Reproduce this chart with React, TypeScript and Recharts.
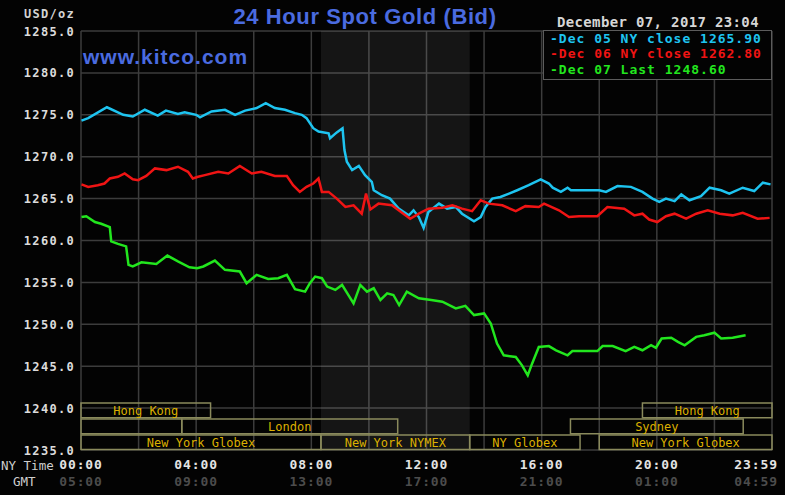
import React from "react";
import {
  CartesianGrid,
  Line,
  LineChart,
  ReferenceArea,
  XAxis,
  YAxis,
} from "recharts";

// minutes after 00:00 NY time
const dec05Times = [
  1, 15, 54, 88, 108, 133, 160, 177, 202, 216, 240, 248, 272, 300, 321, 342, 366, 385, 404, 425,
  446, 460, 470, 484, 495, 516, 519, 533, 545, 549, 554, 565, 579, 592, 606, 610, 627, 644, 662,
  683, 693, 704, 714, 724, 746, 763, 781, 794, 819, 833, 843, 857, 874, 892, 909, 933, 958, 975,
  983, 1000, 1014, 1021, 1080, 1094, 1118, 1146, 1170, 1191, 1205, 1219, 1237, 1251, 1268, 1292,
  1310, 1334, 1351, 1379, 1403, 1421, 1437,
];
const dec05Values = [
  1274.3, 1274.6, 1275.9, 1275.0, 1274.8, 1275.6, 1274.9, 1275.5, 1275.1, 1275.3, 1275.0, 1274.7,
  1275.4, 1275.6, 1275.0, 1275.5, 1275.8, 1276.4, 1275.8, 1275.6, 1275.2, 1275.0, 1274.6, 1273.4,
  1273.0, 1272.8, 1272.2, 1272.9, 1273.4, 1270.8, 1269.4, 1268.4, 1268.9, 1267.8, 1267.0, 1266.0,
  1265.4, 1265.0, 1263.8, 1263.0, 1263.6, 1262.8, 1261.5, 1263.4, 1264.4, 1263.8, 1264.0, 1263.2,
  1262.3, 1262.8, 1264.0, 1265.0, 1265.2, 1265.6, 1266.0, 1266.6, 1267.3, 1266.8, 1266.3, 1265.8,
  1266.3, 1266.0, 1266.0, 1265.8, 1266.5, 1266.4, 1265.8, 1265.0, 1264.6, 1265.0, 1264.7, 1265.5,
  1264.8, 1265.3, 1266.3, 1266.0, 1265.6, 1266.3, 1265.9, 1266.9, 1266.7,
];

const dec06Times = [
  1, 15, 35, 49, 60, 77, 91, 108, 119, 136, 154, 178, 202, 223, 233, 244, 258, 286, 307, 331, 356,
  376, 404, 429, 442, 456, 470, 484, 495, 502, 516, 533, 551, 568, 585, 594, 603, 620, 648, 662,
  686, 704, 724, 753, 774, 794, 815, 833, 850, 878, 906, 926, 954, 965, 996, 1017, 1038, 1076,
  1097, 1132, 1153, 1170, 1184, 1201, 1219, 1237, 1261, 1282, 1306, 1331, 1358, 1379, 1410, 1435,
];
const dec06Values = [
  1266.7, 1266.4, 1266.6, 1266.8, 1267.4, 1267.6, 1268.0, 1267.3, 1267.2, 1267.7, 1268.6, 1268.4,
  1268.8, 1268.2, 1267.4, 1267.6, 1267.8, 1268.2, 1268.0, 1268.9, 1268.0, 1268.2, 1267.7, 1267.7,
  1266.6, 1265.8, 1266.4, 1266.8, 1267.4, 1265.8, 1265.8, 1265.0, 1264.0, 1264.2, 1263.2, 1265.6,
  1263.7, 1264.4, 1264.2, 1263.6, 1262.6, 1263.2, 1263.8, 1263.9, 1264.2, 1263.8, 1263.5, 1264.8,
  1264.4, 1264.2, 1263.5, 1264.1, 1264.0, 1264.4, 1263.6, 1262.8, 1262.9, 1262.9, 1264.0, 1263.8,
  1263.0, 1263.2, 1262.5, 1262.2, 1262.9, 1263.2, 1262.6, 1263.2, 1263.6, 1263.2, 1263.0, 1263.3,
  1262.6, 1262.7,
];

const dec07Times = [
  1, 11, 29, 42, 60, 63, 77, 94, 99, 108, 126, 157, 180, 202, 226, 242, 255, 279, 300, 331, 345,
  366, 390, 411, 429, 446, 467, 477, 488, 502, 513, 530, 544, 568, 582, 596, 610, 624, 638, 651,
  663, 679, 704, 730, 753, 781, 801, 819, 840, 854, 867, 881, 906, 919, 931, 940, 954, 975, 990,
  1014, 1024, 1076, 1087, 1108, 1135, 1153, 1170, 1188, 1198, 1210, 1230, 1244, 1258, 1282, 1299,
  1320, 1334, 1358, 1385,
];
const dec07Values = [
  1262.8, 1262.9, 1262.2, 1262.0, 1261.6, 1259.9, 1259.6, 1259.3, 1257.1, 1256.9, 1257.4, 1257.2,
  1258.2, 1257.5, 1256.8, 1256.7, 1256.9, 1257.6, 1256.5, 1256.3, 1254.9, 1255.9, 1255.4, 1255.5,
  1255.9, 1254.2, 1253.9, 1254.9, 1255.7, 1255.5, 1254.5, 1254.1, 1254.7, 1252.5, 1254.7, 1253.9,
  1254.3, 1252.9, 1253.7, 1253.5, 1252.3, 1253.9, 1253.1, 1252.9, 1252.7, 1251.9, 1252.2, 1251.1,
  1251.3, 1250.1, 1247.7, 1246.3, 1246.1, 1245.1, 1243.9, 1245.3, 1247.3, 1247.4, 1246.9, 1246.3,
  1246.8, 1246.8, 1247.4, 1247.4, 1246.8, 1247.3, 1246.9, 1247.5, 1247.2, 1248.3, 1248.4, 1247.9,
  1247.5, 1248.5, 1248.7, 1249.0, 1248.3, 1248.4, 1248.7,
];

const priceTicks = [1235, 1240, 1245, 1250, 1255, 1260, 1265, 1270, 1275, 1280, 1285];
const gridTimes = [0, 120, 240, 360, 480, 600, 720, 840, 960, 1080, 1200, 1320, 1440];
const nyLabels = ["00:00", "04:00", "08:00", "12:00", "16:00", "20:00", "23:59"];
const gmtLabels = ["05:00", "09:00", "13:00", "17:00", "21:00", "01:00", "04:59"];

const legendLabels = [
  "-Dec 05 NY close 1265.90",
  "-Dec 06 NY close 1262.80",
  "-Dec 07 Last 1248.60",
];

// NYMEX pit session (shaded)
const pitStart = 500;
const pitEnd = 810;

const sessionNames = [
  "Hong Kong", "", "London", "New York Globex", "New York NYMEX", "NY Globex",
  "Sydney", "Hong Kong", "New York Globex",
];
const sessionStarts = [0, 0, 210, 0, 500, 810, 1020, 1170, 1080];
const sessionEnds = [270, 210, 660, 500, 810, 1040, 1380, 1440, 1440];
const sessionRows = [0, 1, 1, 2, 2, 2, 1, 0, 2];

const MONO = '"DejaVu Sans Mono", monospace';
const CYAN = "#1ec4f0";
const RED = "#f01414";
const GREEN = "#22e61e";

const toPoints = (times: number[], values: number[]) =>
  times.map((t, i) => ({ t, v: values[i] }));

const dec05 = toPoints(dec05Times, dec05Values);
const dec06 = toPoints(dec06Times, dec06Values);
const dec07 = toPoints(dec07Times, dec07Values);

// y bands of the three session rows, in price units
const rowBands = [
  [1238.85, 1240.6],
  [1236.95, 1238.7],
  [1235.05, 1236.8],
];

function PriceTick({ x, y, payload }: any) {
  return (
    <text
      x={x + 2}
      y={y + 4.5}
      textAnchor="end"
      fill="#dcdcdc"
      fontFamily={MONO}
      fontWeight="bold"
      fontSize={12}
      letterSpacing={1.3}
    >
      {Number(payload.value).toFixed(1)}
    </text>
  );
}

function TimeTick({ x, y, payload }: any) {
  const t = payload.value;
  if (t % 240 !== 0) return <g />;
  const i = t / 240;
  const last = i === nyLabels.length - 1;
  const tx = last ? x + 6 : x;
  const anchor = last ? "end" : "middle";
  return (
    <g>
      <text
        x={tx}
        y={y + 11}
        textAnchor={anchor}
        fill="#e4e4e4"
        fontFamily={MONO}
        fontWeight="bold"
        fontSize={13}
        letterSpacing={0.9}
      >
        {nyLabels[i]}
      </text>
      <text
        x={tx}
        y={y + 28}
        textAnchor={anchor}
        fill="#4c4c4c"
        fontFamily={MONO}
        fontWeight="bold"
        fontSize={13}
        letterSpacing={0.9}
      >
        {gmtLabels[i]}
      </text>
    </g>
  );
}

export default function App() {
  return (
    <div
      style={{
        position: "absolute",
        left: 0,
        top: 0,
        width: 785,
        height: 495,
        background: "#030303",
        overflow: "hidden",
      }}
    >
      <LineChart
        width={785}
        height={495}
        margin={{ top: 31, right: 13, left: 0, bottom: 0 }}
      >
        <CartesianGrid
          stroke="#3c3c3c"
          strokeWidth={1.5}
          horizontal
          vertical
        />
        <ReferenceArea
          x1={pitStart}
          x2={pitEnd}
          y1={1235}
          y2={1285}
          fill="#ffffff"
          fillOpacity={0.075}
          stroke="none"
        />
        <XAxis
          type="number"
          dataKey="t"
          domain={[0, 1440]}
          ticks={gridTimes}
          height={45}
          axisLine={false}
          tickLine={false}
          tick={<TimeTick />}
          interval={0}
          allowDataOverflow
        />
        <YAxis
          type="number"
          domain={[1235, 1285]}
          ticks={priceTicks}
          width={81}
          axisLine={false}
          tickLine={false}
          tick={<PriceTick />}
          interval={0}
          allowDataOverflow
        />
        {sessionNames.map((name, i) => (
          <ReferenceArea
            key={i}
            x1={sessionStarts[i]}
            x2={sessionEnds[i]}
            y1={rowBands[sessionRows[i]][0]}
            y2={rowBands[sessionRows[i]][1]}
            fill="none"
            fillOpacity={0}
            stroke="#8a8a5c"
            strokeWidth={1.5}
            label={{
              value: name,
              position: "center",
              fill: "#dcb000",
              fontSize: 12,
              fontFamily: MONO,
            }}
          />
        ))}
        <Line
          data={dec05}
          dataKey="v"
          type="linear"
          stroke={CYAN}
          strokeWidth={2.5}
          dot={false}
          isAnimationActive={false}
        />
        <Line
          data={dec06}
          dataKey="v"
          type="linear"
          stroke={RED}
          strokeWidth={2.5}
          dot={false}
          isAnimationActive={false}
        />
        <Line
          data={dec07}
          dataKey="v"
          type="linear"
          stroke={GREEN}
          strokeWidth={2.5}
          dot={false}
          isAnimationActive={false}
        />
      </LineChart>

      <svg
        width={785}
        height={495}
        style={{ position: "absolute", left: 0, top: 0, pointerEvents: "none" }}
      >
        <text
          x={365}
          y={23.5}
          textAnchor="middle"
          fill="#4a6be0"
          fontFamily='"Liberation Sans", Arial, sans-serif'
          fontWeight="bold"
          fontSize={22}
          letterSpacing={0.6}
        >
          24 Hour Spot Gold (Bid)
        </text>
        <text
          x={83}
          y={64}
          fill="#4a6be0"
          fontFamily='"Liberation Sans", Arial, sans-serif'
          fontWeight="bold"
          fontSize={21}
          letterSpacing={1}
        >
          www.kitco.com
        </text>
        <text
          x={24}
          y={18.3}
          fill="#d4d4d4"
          fontFamily={MONO}
          fontWeight="bold"
          fontSize={12}
          letterSpacing={1.3}
        >
          USD/oz
        </text>
        <text
          x={557}
          y={26.5}
          fill="#d6d6d6"
          fontFamily={MONO}
          fontWeight="bold"
          fontSize={14}
          letterSpacing={0.35}
        >
          December 07, 2017 23:04
        </text>
        <rect x={543.5} y={30.5} width={228} height={49} fill="#030303" stroke="#5c5c5c" />
        {legendLabels.map((label, i) => (
          <text
            key={label}
            x={550}
            y={[42.5, 57.5, 73.5][i]}
            fill={[CYAN, RED, GREEN][i]}
            fontFamily={MONO}
            fontWeight="bold"
            fontSize={13}
            letterSpacing={1}
          >
            {label}
          </text>
        ))}
        <text x={1} y={470} fill="#cfcfcf" fontFamily={MONO} fontSize={12.5}>
          NY Time
        </text>
        <text x={13} y={486} fill="#cfcfcf" fontFamily={MONO} fontSize={12.5}>
          GMT
        </text>
      </svg>
    </div>
  );
}
